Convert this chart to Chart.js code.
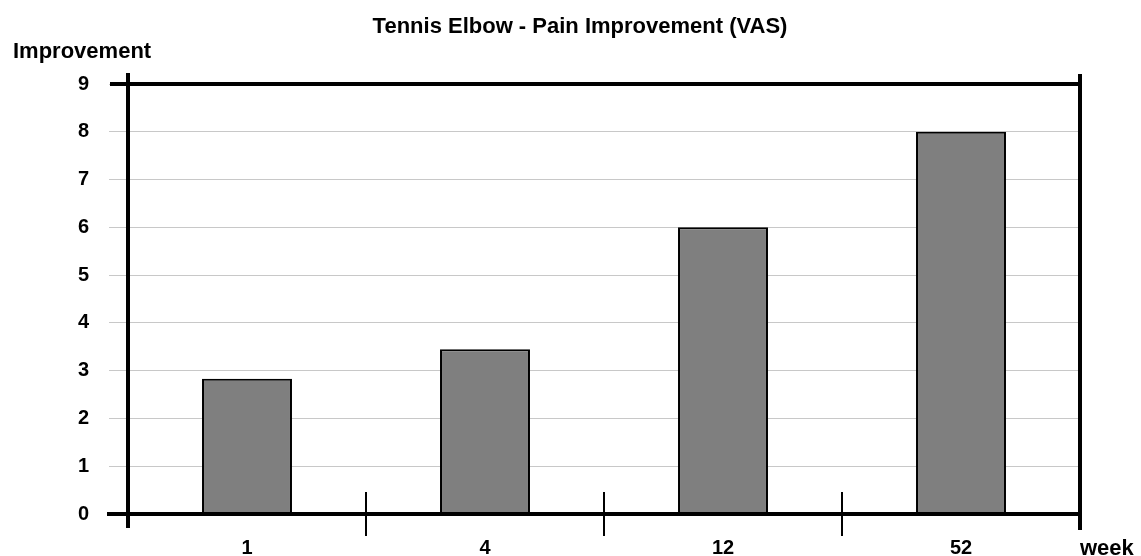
<!DOCTYPE html>
<html>
<head>
<meta charset="utf-8">
<title>Tennis Elbow - Pain Improvement (VAS)</title>
<script src="https://cdn.jsdelivr.net/npm/chart.js@4.4.1/dist/chart.umd.min.js"></script>
<style>
  html, body { margin: 0; padding: 0; background: #fff; }
  #wrap { position: relative; width: 1141px; height: 556px; }
</style>
</head>
<body>
<div id="wrap"><canvas id="vasChart"></canvas></div>
<script>
// ===== Data =====
const weeks = ['1', '4', '12', '52'];
const improvement = [2.83, 3.45, 6, 8];
const yTicks = [0, 1, 2, 3, 4, 5, 6, 7, 8, 9];

const TITLE = 'Tennis Elbow - Pain Improvement (VAS)';
const FONT = "'Liberation Sans', Arial, Helvetica, sans-serif";

// Heavy black frame around the plot, with small overhangs, the short
// separators between week groups, the title and the axis captions.
const framePlugin = {
  id: 'frame',
  afterDatasetsDraw(chart) {
    const { ctx, chartArea: a, scales: { x } } = chart;
    ctx.save();
    ctx.strokeStyle = '#000';
    ctx.lineCap = 'butt';

    ctx.lineWidth = 4;
    ctx.beginPath();
    // top (value 9) and bottom (value 0) lines, poking out to the left
    ctx.moveTo(a.left - 18, a.top); ctx.lineTo(a.right + 2, a.top);
    ctx.moveTo(a.left - 21, a.bottom); ctx.lineTo(a.right + 2, a.bottom);
    // left and right verticals
    ctx.moveTo(a.left, a.top - 11); ctx.lineTo(a.left, a.bottom + 14);
    ctx.moveTo(a.right, a.top - 10); ctx.lineTo(a.right, a.bottom + 16);
    ctx.stroke();

    // separators halfway between categories
    ctx.lineWidth = 2;
    ctx.beginPath();
    for (let i = 0; i < weeks.length - 1; i++) {
      const px = Math.round((x.getPixelForValue(i) + x.getPixelForValue(i + 1)) / 2);
      ctx.moveTo(px, a.bottom - 22);
      ctx.lineTo(px, a.bottom + 22);
    }
    ctx.stroke();

    ctx.fillStyle = '#000';
    ctx.font = 'bold 22px ' + FONT;
    ctx.textBaseline = 'alphabetic';

    // title, sitting a little left of the plot centre
    ctx.textAlign = 'center';
    ctx.fillText(TITLE, (a.left + a.right) / 2 - 24, 33);

    // axis captions
    ctx.textAlign = 'left';
    ctx.fillText('Improvement', 13, a.top - 26);
    ctx.fillText('week', a.right, chart.height - 1);
    ctx.restore();
  }
};

document.addEventListener('DOMContentLoaded', function () {
  const ctx = document.getElementById('vasChart');

  new Chart(ctx, {
    type: 'bar',
    data: {
      labels: weeks,
      datasets: [{
        data: improvement,
        backgroundColor: '#7f7f7f',
        borderColor: '#000',
        borderWidth: 2,
        borderSkipped: false,
        barPercentage: 0.378,
        categoryPercentage: 1
      }]
    },
    options: {
      responsive: true,
      maintainAspectRatio: false,
      animation: false,
      layout: { padding: { left: 0, right: 61, top: 84, bottom: 0 } },
      plugins: {
        legend: { display: false },
        tooltip: { enabled: false },
        title: { display: false }
      },
      scales: {
        x: {
          grid: { display: false },
          border: { display: false },
          ticks: {
            color: '#000',
            padding: 14,
            font: { family: FONT, size: 20, weight: 'bold' }
          },
          afterFit(scale) { scale.height = 42; }
        },
        y: {
          min: 0,
          max: 9,
          afterBuildTicks(scale) {
            scale.ticks = yTicks.map(v => ({ value: v }));
          },
          grid: { color: '#c8c8c8', lineWidth: 1, tickLength: 19 },
          border: { display: false },
          ticks: {
            color: '#000',
            padding: 20,
            font: { family: FONT, size: 20, weight: 'bold' }
          },
          afterFit(scale) { scale.width = 128; }
        }
      }
    },
    plugins: [framePlugin]
  });
});
</script>
</body>
</html>
